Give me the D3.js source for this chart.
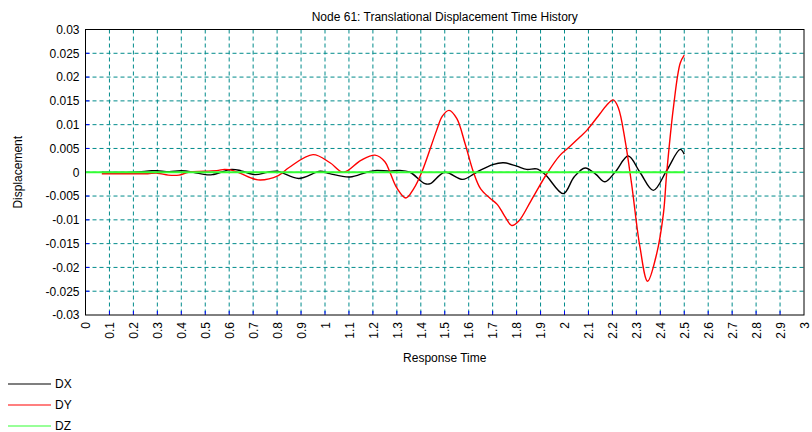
<!DOCTYPE html>
<html><head><meta charset="utf-8">
<script src="https://cdn.jsdelivr.net/npm/d3@7"></script>
<style>
body{margin:0;background:#fff;}
text{font-family:"Liberation Sans",Arial,sans-serif;font-size:12px;fill:#000;}
</style></head><body>
<svg id="c" width="812" height="432"></svg>
<script>
const titleText = "Node 61: Translational Displacement Time History";
const xLabel = "Response Time";
const yLabel = "Displacement";
const xTicks = d3.range(0, 31).map(i => +(i / 10).toFixed(1));
const yTicks = [-0.03,-0.025,-0.02,-0.015,-0.01,-0.005,0,0.005,0.01,0.015,0.02,0.025,0.03];
const seriesNames = ["DX","DY","DZ"];
const seriesColors = ["#000000","#ff0000","#33ff33"];
const seriesWidths = [1.4,1.4,2];

const dxTime = [0.068,0.2,0.276,0.30,0.35,0.40,0.45,0.5,0.53,0.61,0.65,0.708,0.76,0.80,0.89,0.98,1.02,1.104,1.174,1.216,1.27,1.313,1.355,1.417,1.44,1.5,1.575,1.633,1.70,1.745,1.8,1.842,1.884,1.92,1.995,2.04,2.086,2.13,2.169,2.211,2.266,2.315,2.371,2.427,2.483,2.5];
const dxValues = [0,0,0.0003,0.0003,0.0001,0.0003,0,-0.0005,-0.0005,0.0006,0.0003,-0.0005,0,0.0002,-0.0013,0.0002,-0.0003,-0.001,0,0.0004,0.0002,0.0004,0,-0.0024,-0.0024,0,-0.0015,0,0.0016,0.002,0.0013,0.0006,0.0007,-0.0005,-0.0045,-0.001,0.0009,-0.0004,-0.002,0,0.0034,0,-0.0038,0.0004,0.0048,0.0038];

const dyTime = [0.068,0.2,0.26,0.3,0.346,0.39,0.43,0.5,0.555,0.58,0.62,0.65,0.72,0.805,0.85,0.95,1.021,1.077,1.15,1.209,1.25,1.271,1.3,1.338,1.37,1.404,1.466,1.49,1.518,1.55,1.585,1.62,1.65,1.69,1.72,1.75,1.78,1.81,1.86,1.93,1.98,2.02,2.06,2.093,2.148,2.176,2.204,2.225,2.253,2.28,2.315,2.347,2.385,2.413,2.427,2.455,2.483,2.5];
const dyValues = [-0.0003,-0.0003,-0.0003,-0.0002,-0.0006,-0.0006,0,0.0002,0.0004,0.0006,0.0003,-0.0003,-0.0016,-0.0007,0.001,0.0037,0.002,0,0.0025,0.0036,0.0022,0,-0.0033,-0.0054,-0.0035,0,0.0088,0.0118,0.013,0.0113,0.006,0,-0.0035,-0.0055,-0.0068,-0.0092,-0.0112,-0.0102,-0.006,0,0.0035,0.0053,0.0072,0.0088,0.0123,0.0141,0.0152,0.0135,0.0067,-0.0024,-0.0157,-0.0229,-0.0171,-0.0087,0,0.0137,0.0229,0.0246];

const dzTime = [0,2.5];
const dzValues = [0,0];

const svg = d3.select("#c");
const m = {l:85.5, r:804, t:29.5, b:315};
const x = d3.scaleLinear().domain([0,3]).range([m.l, m.r]);
const y = d3.scaleLinear().domain([-0.03,0.03]).range([m.b, m.t]);

const g = svg.append("g");
g.selectAll(".vg").data(xTicks.slice(1,-1)).join("line")
  .attr("x1", d=>x(d)).attr("x2", d=>x(d)).attr("y1", m.t).attr("y2", m.b)
  .attr("stroke","#008b8b").attr("stroke-width",1).attr("stroke-dasharray","4,3");
g.selectAll(".hg").data(yTicks.slice(1,-1)).join("line")
  .attr("y1", d=>y(d)).attr("y2", d=>y(d)).attr("x1", m.l).attr("x2", m.r)
  .attr("stroke","#008b8b").attr("stroke-width",1).attr("stroke-dasharray","4,3");
g.selectAll(".yt").data(yTicks.slice(1,-1)).join("line")
  .attr("y1", d=>y(d)).attr("y2", d=>y(d)).attr("x1", m.l).attr("x2", m.l+4)
  .attr("stroke","#0000ff");
g.selectAll(".xt").data(xTicks.slice(1,-1)).join("line")
  .attr("x1", d=>x(d)).attr("x2", d=>x(d)).attr("y1", m.b).attr("y2", m.b-4)
  .attr("stroke","#0000ff");

const yAxis = d3.axisLeft(y).tickValues(yTicks).tickSize(0).tickPadding(6)
  .tickFormat(d => String(+d.toFixed(3)));
const ya = svg.append("g").attr("transform",`translate(${m.l},0)`).call(yAxis);
ya.select(".domain").remove();
ya.selectAll("text").attr("font-size","12px").attr("font-family","Liberation Sans, Arial, sans-serif").attr("fill","#000");

const xAxis = d3.axisBottom(x).tickValues(xTicks).tickSize(0).tickFormat(d => String(d));
const xa = svg.append("g").attr("transform",`translate(0,${m.b})`).call(xAxis);
xa.select(".domain").remove();
xa.selectAll("text")
  .attr("transform","rotate(-90)")
  .attr("x",-7).attr("y",0).attr("dy","0.35em")
  .style("text-anchor","end")
  .attr("font-size","12px").attr("font-family","Liberation Sans, Arial, sans-serif").attr("fill","#000");

const line = d3.line().x(d=>x(d[0])).y(d=>y(d[1])).curve(d3.curveCatmullRom.alpha(0.5));
const series = [[dxTime,dxValues],[dyTime,dyValues],[dzTime,dzValues]];
svg.append("clipPath").attr("id","clp").append("rect")
  .attr("x",m.l).attr("y",m.t).attr("width",m.r-m.l).attr("height",m.b-m.t);
series.forEach((s,i)=>{
  const pts = s[0].map((t,j)=>[t,s[1][j]]);
  svg.append("path").datum(pts).attr("d",line).attr("fill","none")
    .attr("stroke",seriesColors[i]).attr("stroke-width",seriesWidths[i]).attr("clip-path","url(#clp)");
});

svg.append("rect").attr("x",m.l).attr("y",m.t).attr("width",m.r-m.l).attr("height",m.b-m.t)
  .attr("fill","none").attr("stroke","#000").attr("stroke-width",1);

svg.append("text").attr("x",(m.l+m.r)/2).attr("y",21).attr("text-anchor","middle").text(titleText);
svg.append("text").attr("x",(m.l+m.r)/2).attr("y",362).attr("text-anchor","middle").text(xLabel);
svg.append("text").attr("transform",`translate(22,${(m.t+m.b)/2}) rotate(-90)`).attr("text-anchor","middle").text(yLabel);

const leg = svg.append("g");
seriesNames.forEach((n,i)=>{
  const yy = 384 + i*21;
  leg.append("line").attr("x1",8).attr("x2",51).attr("y1",yy).attr("y2",yy)
    .attr("stroke",seriesColors[i]).attr("stroke-width",1.2);
  leg.append("text").attr("x",55).attr("y",yy).attr("dy","0.35em").text(n);
});
</script>
</body></html>
